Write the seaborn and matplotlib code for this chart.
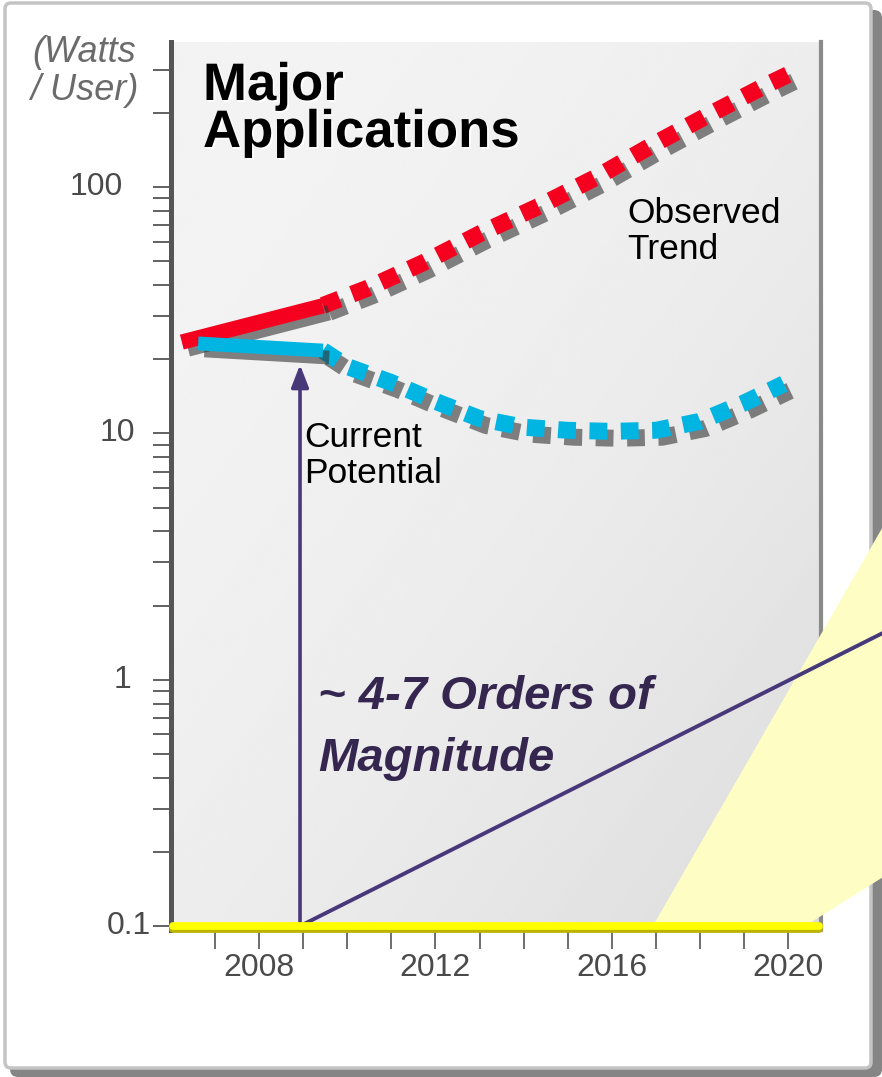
import matplotlib
matplotlib.use('Agg')
import matplotlib.pyplot as plt
import matplotlib.patheffects as pe
from matplotlib.patches import FancyBboxPatch, Polygon
from matplotlib.transforms import IdentityTransform
from matplotlib.ticker import FixedLocator, LogLocator, NullFormatter
import numpy as np
import seaborn as sns

# values (watts per user, log axis)
red_solid_year = [2006.25, 2009.45]
red_solid_watts = [23.5, 33.0]
red_trend_year = [2009.45, 2010.45, 2011.74, 2013.03, 2014.35, 2015.66, 2016.91, 2018.18, 2019.47, 2020.11]
red_trend_watts = [33.1, 38.8, 49.5, 65.0, 83.7, 110.0, 148.0, 196.0, 258.0, 293.0]

cyan_solid_year = [2006.62, 2009.45]
cyan_solid_watts = [23.2, 21.7]
cyan_pot_year = [2009.45, 2010.0, 2011.0, 2012.0, 2013.0, 2014.0, 2015.0, 2016.0, 2017.0, 2018.0, 2019.0, 2019.9]
cyan_pot_watts = [21.7, 18.7, 16.1, 13.5, 11.5, 10.6, 10.3, 10.2, 10.3, 11.2, 13.3, 15.9]

arrow_year = 2008.93
arrow_watts = [0.1, 19.0]
diag_year = [2008.93, 2022.15]
diag_watts = [0.1, 1.55]
wedge_year = [2016.93, 2022.15, 2022.15, 2020.38]
wedge_watts = [0.1, 4.19, 0.158, 0.1]

ytick_vals = [0.1, 1, 10, 100]
ytick_labels = ['0.1', '1', '10', '100']
xtick_vals = [2008, 2012, 2016, 2020]
xtick_labels = ['2008', '2012', '2016', '2020']
xminor_vals = list(range(2007, 2021))

# layout (pixels of the 882x1077 picture)
W, H = 882, 1077
def fx(px):
    return px / W
def fy(py):
    return 1 - py / H

sns.set_theme(style='white')
plt.rcParams['font.family'] = ['Liberation Sans', 'DejaVu Sans']

fig = plt.figure(figsize=(W / 100, H / 100), dpi=100)
fig.patch.set_facecolor('white')

# frame with shadow
fig.add_artist(FancyBboxPatch((10, 0), 872, 1067, boxstyle='round,pad=0,rounding_size=8',
                              transform=IdentityTransform(), facecolor='#858585', edgecolor='none', zorder=-3))
fig.add_artist(FancyBboxPatch((5, 9), 866, 1065, boxstyle='round,pad=0,rounding_size=6',
                              transform=IdentityTransform(), facecolor='white', edgecolor='#c4c4c4', lw=2.5, zorder=-2))

rect = [fx(170.8), 1 - 930.4 / H, 650.5 / W, 888.8 / H]

# gradient background of the plot area
bg = fig.add_axes(rect, zorder=0)
U, V = np.meshgrid(np.linspace(0, 1, 300), np.linspace(0, 1, 300))
t = np.clip((U + V) / 2, 0, 1)
bg.imshow(0.953 - 0.095 * t ** 2, cmap='gray', vmin=0, vmax=1, extent=(0, 1, 0, 1),
          aspect='auto', interpolation='bicubic')
bg.axis('off')

ax = fig.add_axes(rect, zorder=1)
ax.set_facecolor('none')
ax.set_yscale('log')

shadow = [pe.SimpleLineShadow(offset=(4.5, -5), shadow_color='#333333', alpha=0.6), pe.Normal()]
dots = (0, (1.05, 0.8))

sns.lineplot(x=red_trend_year, y=red_trend_watts, ax=ax, color='#F5001E', lw=12.2,
             linestyle=dots, dash_capstyle='butt', path_effects=shadow, zorder=6)
sns.lineplot(x=cyan_pot_year, y=cyan_pot_watts, ax=ax, color='#00B5E2', lw=12.2,
             linestyle=dots, dash_capstyle='butt', path_effects=shadow, zorder=6)
sns.lineplot(x=red_solid_year, y=red_solid_watts, ax=ax, color='#F5001E', lw=11,
             solid_capstyle='butt', path_effects=shadow, zorder=6)
sns.lineplot(x=cyan_solid_year, y=cyan_solid_watts, ax=ax, color='#00B5E2', lw=10,
             solid_capstyle='butt', path_effects=shadow, zorder=7)

# pale yellow wedge reaching out of the plot on the right
ax.add_patch(Polygon(np.column_stack([wedge_year, wedge_watts]), closed=True,
                     facecolor='#FEFEC4', edgecolor='none', clip_on=False, zorder=3))

purple = '#47387A'
ax.plot(diag_year, diag_watts, color=purple, lw=2.8, clip_on=False, zorder=4)
ax.annotate('', xy=(arrow_year, arrow_watts[1]), xytext=(arrow_year, arrow_watts[0]),
            arrowprops=dict(arrowstyle='-|>,head_length=0.9,head_width=0.35', color=purple, lw=2.6,
                            mutation_scale=15, shrinkA=0, shrinkB=0), zorder=4)

# yellow band along the bottom
ax.plot([2006.05, 2020.7], [0.1, 0.1], color='#FFFF00', lw=5.6, solid_capstyle='round', clip_on=False,
        path_effects=[pe.SimpleLineShadow(offset=(0, -2.4), shadow_color='#BDB400', alpha=1), pe.Normal()],
        zorder=8)

ax.set_xlim(2006, 2020.75)
ax.set_ylim(0.096, 390)

ax.spines['top'].set_visible(False)
ax.spines['left'].set_color('#555555')
ax.spines['left'].set_linewidth(3.6)
ax.spines['right'].set_color('#8a8a8a')
ax.spines['right'].set_linewidth(3)
ax.spines['bottom'].set_color('#9a9a9a')
ax.spines['bottom'].set_linewidth(2.2)

ax.yaxis.set_major_locator(FixedLocator(ytick_vals))
ax.yaxis.set_minor_locator(LogLocator(base=10, subs=np.arange(2, 10)))
ax.yaxis.set_minor_formatter(NullFormatter())
ax.tick_params(axis='y', which='both', left=True, direction='out', length=13, width=1.3,
               color='#555555', labelleft=False)

ax.set_xticks(xtick_vals, labels=xtick_labels)
ax.xaxis.set_minor_locator(FixedLocator(xminor_vals))
ax.tick_params(axis='x', which='both', bottom=True, direction='out', length=13.4, width=1.2,
               color='#555555', pad=3, labelsize=23, labelcolor='#4a4a4a')
ax.grid(False)

# y tick labels, each set by hand like the original text boxes
label_right_px = [151, 131, 135, 123]
for val, lab, rpx in zip(ytick_vals, ytick_labels, label_right_px):
    ax.text((rpx - 170.8) / 650.5, val, lab, transform=ax.get_yaxis_transform(), ha='right', va='center',
            fontsize=23, color='#4a4a4a', clip_on=False)

# texts
halo = [pe.SimplePatchShadow(offset=(1.3, -1.3), shadow_rgbFace='white', alpha=1), pe.Normal()]
fig.text(fx(203), fy(100), 'Major', fontsize=38, fontweight='bold', color='black', va='baseline', path_effects=halo)
fig.text(fx(203), fy(147), 'Applications', fontsize=38, fontweight='bold', color='black', va='baseline',
         path_effects=halo)

fig.text(fx(84), fy(62), '(Watts', fontsize=26, fontstyle='italic', color='#6b6b6b', ha='center', va='baseline')
fig.text(fx(84), fy(100), '/ User)', fontsize=26, fontstyle='italic', color='#6b6b6b', ha='center', va='baseline')

fig.text(fx(627), fy(223), 'Observed', fontsize=25.5, color='black', va='baseline')
fig.text(fx(627), fy(259), 'Trend', fontsize=25.5, color='black', va='baseline')
fig.text(fx(304), fy(447), 'Current', fontsize=25.5, color='black', va='baseline')
fig.text(fx(304), fy(483), 'Potential', fontsize=25.5, color='black', va='baseline')

fig.text(fx(318), fy(709), '~ 4-7 Orders of', fontsize=34, fontweight='bold', fontstyle='italic',
         color='#352650', va='baseline')
fig.text(fx(318), fy(771), 'Magnitude', fontsize=34, fontweight='bold', fontstyle='italic',
         color='#352650', va='baseline')

fig.savefig('out.png', dpi=100)
